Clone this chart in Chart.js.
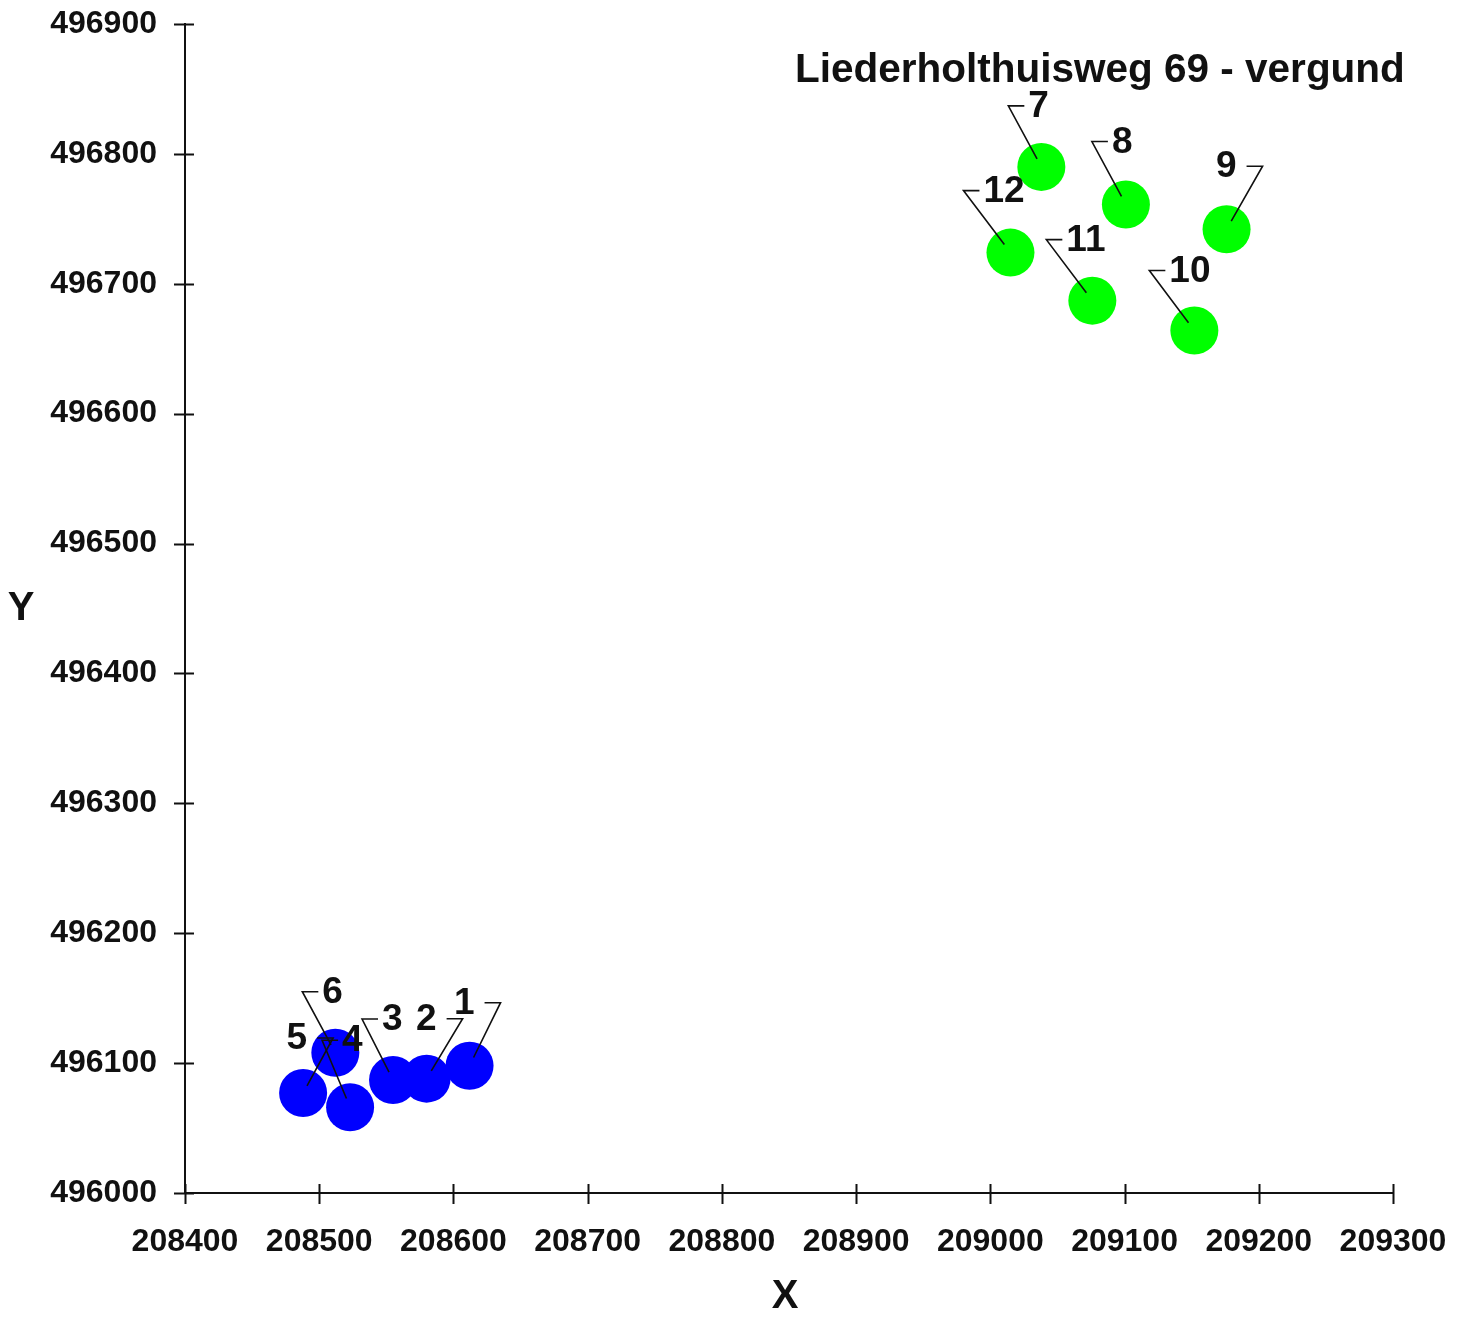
<!DOCTYPE html>
<html>
<head>
<meta charset="utf-8">
<title>Liederholthuisweg 69 - vergund</title>
<script src="https://cdn.jsdelivr.net/npm/chart.js@4.4.1/dist/chart.umd.min.js"></script>
<style>
    html, body { margin: 0; padding: 0; background: #fff; }
    #wrap { width: 1466px; height: 1319px; }
</style>
</head>
<body>
<div id="wrap"><canvas id="xyChart" width="1466" height="1319"></canvas></div>
<script>
// ===========================
// Data
// ===========================

const chartTitle = 'Liederholthuisweg 69 - vergund';

const blueIds = ['1', '2', '3', '4', '5', '6'];
const blueX = [208612, 208580, 208555, 208523, 208488, 208512];
const blueY = [496098, 496088, 496087, 496066, 496077, 496108];

const greenIds = ['7', '8', '9', '10', '11', '12'];
const greenX = [209038, 209101, 209176, 209152, 209076, 209015];
const greenY = [496790, 496761, 496742, 496664, 496687, 496724];

const xTicks = [208400, 208500, 208600, 208700, 208800, 208900, 209000, 209100, 209200, 209300];
const yTicks = [496000, 496100, 496200, 496300, 496400, 496500, 496600, 496700, 496800, 496900];

// leader line layout per label: [elbow dx, elbow dy, side]
const leaderLayout = {
    '1': [31, -63, -1], '2': [36, -60, -1], '3': [-31, -61, 1],
    '4': [-28, -67, 1], '5': [30, -55, -1], '6': [-33, -61, 1],
    '7': [-33, -61, 1], '8': [-34, -63, 1], '9': [36, -63, -1],
    '10': [-45, -60, 1], '11': [-46, -61, 1], '12': [-47, -62, 1]
};

const FONT = '"Liberation Sans", Arial, sans-serif';
const INK = '#111';

function toPoints(xs, ys) {
    return xs.map((x, i) => ({ x: x, y: ys[i] }));
}

// ===========================
// Plugins
// ===========================

const crossTicks = {
    id: 'crossTicks',
    afterDraw(chart) {
        const ctx = chart.ctx;
        const sx = chart.scales.x;
        const sy = chart.scales.y;
        const area = chart.chartArea;
        ctx.save();
        ctx.strokeStyle = INK;
        ctx.lineWidth = 2;
        ctx.beginPath();
        sx.ticks.forEach(t => {
            const px = Math.round(sx.getPixelForValue(t.value)) + 0.5;
            ctx.moveTo(px, area.bottom - 9);
            ctx.lineTo(px, area.bottom + 11);
        });
        sy.ticks.forEach(t => {
            const py = Math.round(sy.getPixelForValue(t.value)) + 0.5;
            ctx.moveTo(area.left - 11, py);
            ctx.lineTo(area.left + 9, py);
        });
        ctx.stroke();

        // axis titles
        ctx.fillStyle = INK;
        ctx.font = 'bold 40px ' + FONT;
        ctx.textAlign = 'center';
        ctx.textBaseline = 'middle';
        ctx.fillText('X', (area.left + area.right) / 2 - 4, 1297);
        ctx.fillText('Y', 21, (area.top + area.bottom) / 2);

        // title inside plot
        ctx.font = 'bold 40.5px ' + FONT;
        ctx.textAlign = 'left';
        ctx.textBaseline = 'alphabetic';
        ctx.fillText(chartTitle, area.left + 610, 82);
        ctx.restore();
    }
};

const leaderLabels = {
    id: 'leaderLabels',
    afterDatasetsDraw(chart) {
        const ctx = chart.ctx;
        ctx.save();
        ctx.strokeStyle = INK;
        ctx.fillStyle = INK;
        ctx.lineWidth = 1.6;
        ctx.font = 'bold 37px ' + FONT;
        ctx.textBaseline = 'middle';
        chart.data.datasets.forEach((ds, di) => {
            const meta = chart.getDatasetMeta(di);
            meta.data.forEach((el, i) => {
                const id = ds.ids[i];
                const [dx, dy, side] = leaderLayout[id];
                const ex = el.x + dx;
                const ey = el.y + dy;
                const hx = ex + side * 16;
                ctx.beginPath();
                ctx.moveTo(el.x + dx * 0.13, el.y + dy * 0.13);
                ctx.lineTo(ex, ey);
                ctx.lineTo(hx, ey);
                ctx.stroke();
                ctx.textAlign = side > 0 ? 'left' : 'right';
                ctx.fillText(id, hx + side * (side > 0 ? 4 : 10), ey + 1);
            });
        });
        ctx.restore();
    }
};

// ===========================
// Chart
// ===========================

const ctx = document.getElementById('xyChart');

new Chart(ctx, {
    type: 'scatter',
    data: {
        datasets: [{
            label: 'vergund 1-6',
            ids: blueIds,
            data: toPoints(blueX, blueY),
            backgroundColor: '#0000ff',
            borderWidth: 0,
            pointRadius: 24,
            pointHoverRadius: 24
        }, {
            label: 'vergund 7-12',
            ids: greenIds,
            data: toPoints(greenX, greenY),
            backgroundColor: '#00ff00',
            borderWidth: 0,
            pointRadius: 24,
            pointHoverRadius: 24
        }]
    },
    options: {
        responsive: false,
        animation: false,
        events: [],
        layout: {
            padding: { top: 21, right: 73, left: 0, bottom: 0 }
        },
        plugins: {
            legend: { display: false },
            tooltip: { enabled: false }
        },
        scales: {
            x: {
                type: 'linear',
                min: xTicks[0],
                max: xTicks[xTicks.length - 1],
                afterBuildTicks: s => { s.ticks = xTicks.map(v => ({ value: v })); },
                afterFit: s => {
                    s.height = 126;
                    s.paddingLeft = 0;
                    s.paddingRight = 0;
                },
                grid: { display: false, drawTicks: false },
                border: { display: true, color: INK, width: 2 },
                ticks: {
                    color: INK,
                    padding: 30,
                    maxRotation: 0,
                    autoSkip: false,
                    font: { family: FONT, size: 32, weight: 'bold' },
                    callback: v => String(v)
                }
            },
            y: {
                type: 'linear',
                min: yTicks[0],
                max: yTicks[yTicks.length - 1],
                afterBuildTicks: s => { s.ticks = yTicks.map(v => ({ value: v })); },
                afterFit: s => {
                    s.width = 185;
                    s.paddingTop = 0;
                    s.paddingBottom = 0;
                },
                grid: { display: false, drawTicks: false },
                border: { display: true, color: INK, width: 2 },
                ticks: {
                    color: INK,
                    padding: 28,
                    autoSkip: false,
                    font: { family: FONT, size: 32, weight: 'bold' },
                    callback: v => String(v)
                }
            }
        }
    },
    plugins: [crossTicks, leaderLabels]
});
</script>
</body>
</html>
